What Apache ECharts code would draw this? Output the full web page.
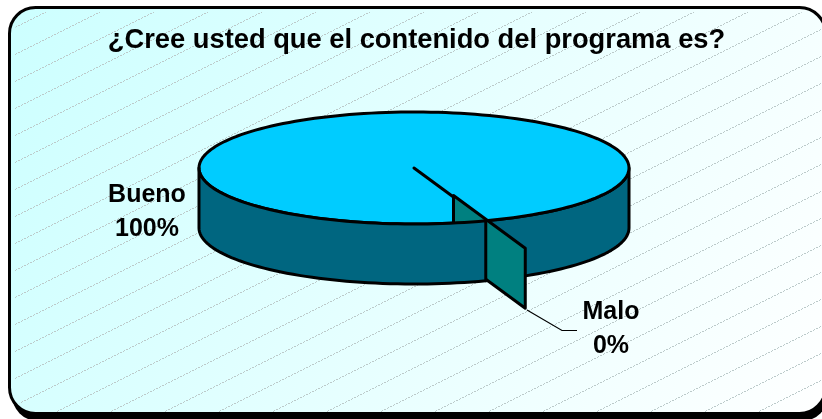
<!DOCTYPE html>
<html>
<head>
<meta charset="utf-8">
<style>html,body{margin:0;padding:0;background:#fff}#c{width:822px;height:419px}</style>
<script src="https://cdn.jsdelivr.net/npm/echarts@6/dist/echarts.min.js"></script>
</head>
<body>
<div id="c"></div>
<script>
const titleText = '¿Cree usted que el contenido del programa es?';
const categories = ['Bueno', 'Malo'];
const values = [100, 0];

const total = values.reduce((a, b) => a + b, 0);
const pie = { cx: 414, cy: 168, rx: 215, ry: 56, depth: 60, startDeg: 70.5, explode: [0, 39.5], explodeY: [0, 27.5] };
const labelPos = [[147, 212], [611, 329]];
const leaders = [null, [[527, 310], [562, 330.5], [577, 330.5]]];
const colors = { top: '#00CCFF', wall: '#006680', teal: '#008080' };

function pt(t, dy, ox, oy) {
  return [pie.cx + ox + pie.rx * Math.cos(t), pie.cy + oy + pie.ry * Math.sin(t) + dy];
}
function arcPts(a, b, dy, ox, oy) {
  const n = Math.max(1, Math.ceil(Math.abs(b - a) / (Math.PI / 90)));
  const out = [];
  for (let i = 0; i <= n; i++) out.push(pt(a + (b - a) * i / n, dy, ox, oy));
  return out;
}
function wall(a, b, ox, oy, z2, fill) {
  return {
    type: 'polygon', z2: z2,
    shape: { points: arcPts(a, b, 0, ox, oy).concat(arcPts(b, a, pie.depth, ox, oy)) },
    style: { fill: fill, stroke: '#000', lineWidth: 3, lineJoin: 'round' }
  };
}
function renderItem(params, api) {
  const i = params.dataIndex;
  let before = 0;
  for (let k = 0; k < i; k++) before += values[k];
  const val = api.value(1);
  const a0 = (pie.startDeg + before / total * 360) * Math.PI / 180;
  const a1 = a0 + val / total * 2 * Math.PI;
  const ox = pie.explode[i], oy = pie.explodeY[i];
  const kids = [];
  if (val > 0) {
    const s = pie.startDeg * Math.PI / 180;
    kids.push(wall(0, s, ox, oy, 1, colors.wall));
    kids.push(wall(s, Math.PI, ox, oy, 5, colors.wall));
    kids.push({
      type: 'polygon', z2: 2,
      shape: { points: [[pie.cx + ox, pie.cy + oy]].concat(arcPts(a0, a1, 0, ox, oy)) },
      style: { fill: colors.top, stroke: '#000', lineWidth: 3, lineJoin: 'round' }
    });
  } else {
    const rim = pt(a0, 0, ox, oy);
    const apex = [pie.cx + ox, pie.cy + oy];
    kids.push({
      type: 'polygon', z2: 3,
      shape: { points: [apex, rim, [rim[0], rim[1] + pie.depth], [apex[0], apex[1] + pie.depth]] },
      style: { fill: colors.teal, stroke: '#000', lineWidth: 3, lineJoin: 'round' }
    });
  }
  if (leaders[i]) {
    kids.push({
      type: 'polyline', z2: 6,
      shape: { points: leaders[i] },
      style: { fill: null, stroke: '#000', lineWidth: 1.2 }
    });
  }
  kids.push({
    type: 'text', z2: 7,
    x: labelPos[i][0], y: labelPos[i][1],
    style: {
      text: categories[i] + '\n' + Math.round(val / total * 100) + '%',
      fontFamily: '"Liberation Sans", Arial, sans-serif',
      fontWeight: 'bold', fontSize: 25, lineHeight: 34,
      fill: '#000', align: 'center', verticalAlign: 'middle'
    }
  });
  return { type: 'group', children: kids };
}

const tile = document.createElement('canvas');
tile.width = 54; tile.height = 27;
const g = tile.getContext('2d');
g.fillStyle = '#BCCACA';
for (let x = 0; x < 54; x++) {
  if (x % 3 === 2) continue;
  const y = Math.floor(((7.7 - x / 2) % 27 + 27) % 27);
  g.fillRect(x, y, 1, 1);
}

const chart = echarts.init(document.getElementById('c'), null, { renderer: 'canvas' });
chart.setOption({
  animation: false,
  backgroundColor: '#fff',
  title: {
    text: titleText, left: 411.5, top: 22, textAlign: 'center',
    textStyle: { fontFamily: '"Liberation Sans", Arial, sans-serif', fontWeight: 'bold', fontSize: 27.3, color: '#000' }
  },
  graphic: [
    { type: 'rect', z: -3, silent: true, shape: { x: 12, y: 11, width: 816, height: 410, r: 26 }, style: { fill: '#000' } },
    { type: 'rect', z: -2, silent: true, shape: { x: 9.5, y: 7.5, width: 816, height: 406, r: 26 },
      style: {
        stroke: '#000', lineWidth: 3,
        fill: { type: 'linear', x: 0, y: 0, x2: 1, y2: 1, colorStops: [{ offset: 0, color: '#CCFFFF' }, { offset: 1, color: '#FFFFFF' }] }
      } },
    { type: 'rect', z: -1, silent: true, shape: { x: 14, y: 12, width: 808, height: 400, r: 24 },
      style: { fill: { image: tile, repeat: 'repeat' } } }
  ],
  series: [{
    type: 'custom',
    coordinateSystem: 'none',
    silent: true,
    renderItem: renderItem,
    data: categories.map((c, i) => [c, values[i]])
  }]
});
</script>
</body>
</html>
